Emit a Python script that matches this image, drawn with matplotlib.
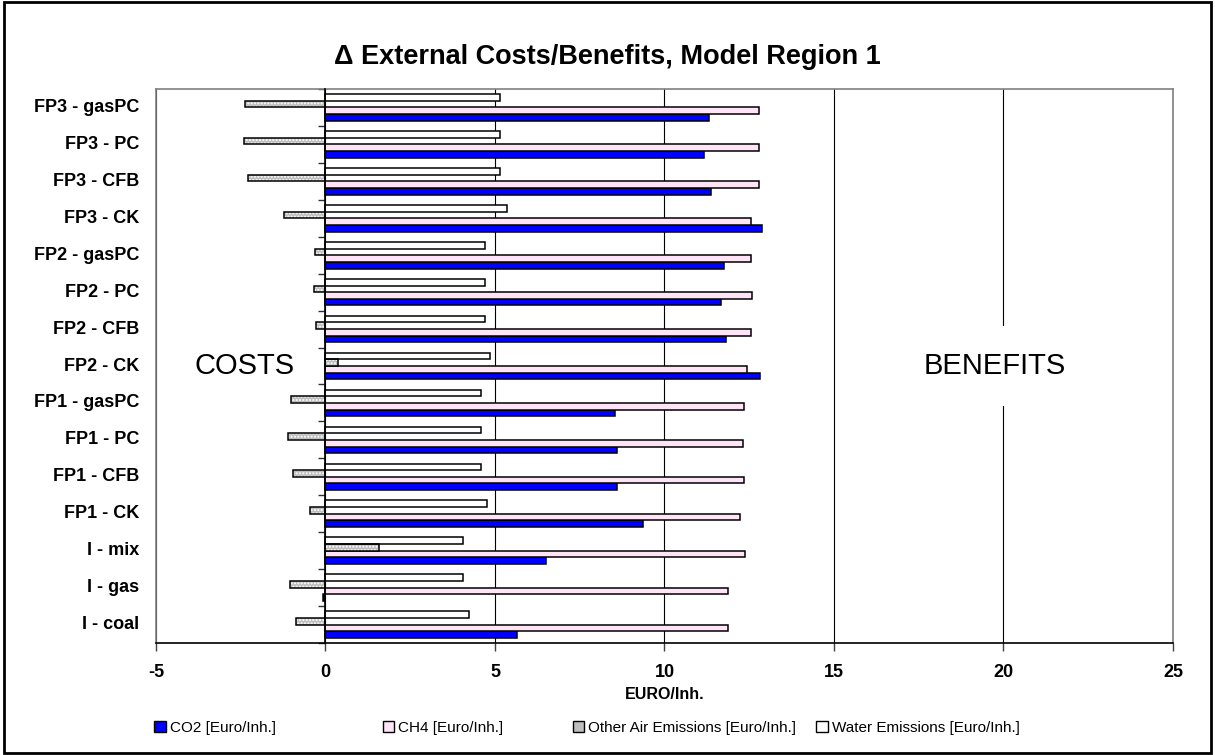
import numpy as np
import matplotlib
matplotlib.use('Agg')
import matplotlib.pyplot as plt
from matplotlib.patches import Rectangle, Patch

plt.rcParams['font.family'] = ['Liberation Sans', 'DejaVu Sans']
plt.rcParams['axes.unicode_minus'] = False

# delta external costs (-) / benefits (+) per inhabitant, bottom to top
plants = ['I - coal', 'I - gas', 'I - mix', 'FP1 - CK', 'FP1 - CFB', 'FP1 - PC', 'FP1 - gasPC',
          'FP2 - CK', 'FP2 - CFB', 'FP2 - PC', 'FP2 - gasPC',
          'FP3 - CK', 'FP3 - CFB', 'FP3 - PC', 'FP3 - gasPC']
co2 = [5.65, -0.08, 6.50, 9.38, 8.59, 8.61, 8.54, 12.82, 11.80, 11.66, 11.75, 12.89, 11.38, 11.16, 11.31]
ch4 = [11.87, 11.88, 12.37, 12.23, 12.34, 12.31, 12.34, 12.44, 12.56, 12.57, 12.56, 12.56, 12.80, 12.79, 12.80]
other_air = [-0.87, -1.05, 1.58, -0.47, -0.97, -1.12, -1.02, 0.37, -0.27, -0.34, -0.32, -1.23, -2.28, -2.39, -2.36]
water = [4.22, 4.06, 4.07, 4.75, 4.60, 4.60, 4.60, 4.84, 4.70, 4.70, 4.70, 5.35, 5.15, 5.14, 5.14]
series_names = ['CO2 [Euro/Inh.]', 'CH4 [Euro/Inh.]', 'Other Air Emissions [Euro/Inh.]', 'Water Emissions [Euro/Inh.]']

fig = plt.figure(figsize=(12.15, 7.55), dpi=100)
ax = fig.add_axes([0.1284, 0.1483, 0.837, 0.7338])

y = np.arange(len(plants))
h = 0.18
colors = ['#0000FF', '#FFE4F8', '#BEBEBE', 'white']
all_vals = [co2, ch4, other_air, water]

for k, (vals, col) in enumerate(zip(all_vals, colors)):
    pos = y + (k - 1.5) * h
    if k == 2:
        # dotted grey fill, outline drawn on top
        ax.barh(pos, vals, height=h, color=col, edgecolor='white', hatch='.....',
                linewidth=0, zorder=3)
        ax.barh(pos, vals, height=h, fill=False, edgecolor='black', linewidth=1.1, zorder=4)
    else:
        ax.barh(pos, vals, height=h, color=col, edgecolor='black', linewidth=1.1, zorder=3)

ax.set_xlim(-5, 25)
ax.set_ylim(-0.5, len(plants) - 0.5)
ax.set_xticks(np.arange(-5, 30, 5))
ax.tick_params(axis='x', direction='out', length=6, width=1, color='#404040', pad=9,
               labelsize=13)
for t in ax.get_xticklabels():
    t.set_fontweight('bold')
ax.grid(axis='x', color='black', linewidth=0.8)
ax.set_axisbelow(True)

# value axis crosses at 0, category labels stay at the left
ax.spines['left'].set_position(('data', 0))
ax.spines['left'].set_linewidth(1.2)
ax.spines['left'].set_zorder(5)
ax.spines['bottom'].set_linewidth(1.2)
ax.spines['bottom'].set_color('black')
for s in ['top', 'right']:
    ax.spines[s].set_color('#808080')
    ax.spines[s].set_linewidth(1.2)
ax.plot([0, 0], [0, 1], transform=ax.transAxes, color='#808080', linewidth=1.2,
        clip_on=False, zorder=1)
ax.set_yticks(np.arange(-0.5, len(plants), 1.0))
ax.set_yticklabels([])
ax.tick_params(axis='y', direction='out', length=5, width=1, color='#303030')
for yi, name in zip(y, plants):
    ax.text(-0.0167, yi, name, transform=ax.get_yaxis_transform(), ha='right', va='center',
            fontsize=13, fontweight='bold')

ax.text(-2.4, 7, 'COSTS', ha='center', va='center', fontsize=21)
ax.text(19.75, 7, 'BENEFITS', ha='center', va='center', fontsize=21, zorder=6,
        bbox=dict(facecolor='white', edgecolor='none', pad=18.5))

fig.text(0.5, 0.9245, '\u0394 External Costs/Benefits, Model Region 1', ha='center',
         va='center', fontsize=19.5, fontweight='bold')
fig.text(0.547, 0.08, 'EURO/Inh.', ha='center', va='center', fontsize=11.5, fontweight='bold')

# legend entries sit at their own spots along the bottom
legend_x = [0.127, 0.315, 0.4715, 0.672]
for c, name, lx in zip(colors, series_names, legend_x):
    leg = fig.legend([Patch(facecolor=c, edgecolor='black', linewidth=1.0)], [name],
                     loc='center left', bbox_to_anchor=(lx, 0.036), frameon=False,
                     fontsize=11, handlelength=0.75, handleheight=0.75,
                     handletextpad=0.25, borderpad=0, borderaxespad=0)

fig.patches.append(Rectangle((0.003, 0.003), 0.994, 0.994, transform=fig.transFigure,
                             fill=False, edgecolor='black', linewidth=2))

fig.savefig('out.png', dpi=100)
